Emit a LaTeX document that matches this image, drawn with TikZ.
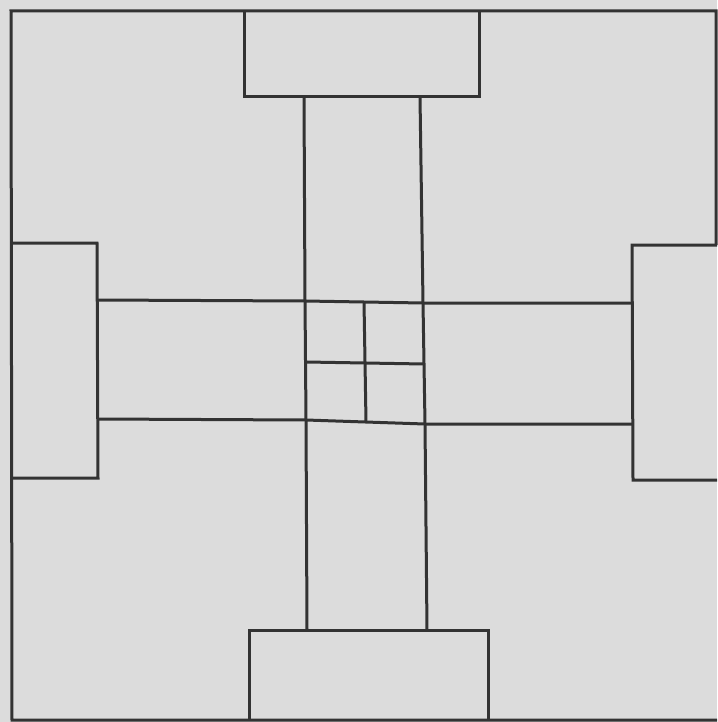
\documentclass[tikz,border=0pt]{standalone}
\usepackage{tikz}
\definecolor{paper}{HTML}{DCDCDC}
\definecolor{ink}{HTML}{333333}
\begin{document}
\begin{tikzpicture}[x=1pt,y=-1pt,
  edge/.style={draw=ink,line width=3pt,line join=miter,line cap=butt}]
\fill[paper] (0,0) rectangle (717,722);
\useasboundingbox (0,0) rectangle (717,722);
% outer frame (right side cut off by the picture edge)
\draw[edge] (716,245) -- (716,11) -- (11,11) -- (12,720) -- (717,720);
% top box
\draw[edge] (244,11) -- (244,97) -- (479,97) -- (479,11);
% bottom box
\draw[edge] (249,720) -- (249,630) -- (488,630) -- (488,720);
% left box
\draw[edge] (12,243) -- (97,243) -- (98,478) -- (12,478);
% right box
\draw[edge] (717,245) -- (632,245) -- (633,480) -- (717,480);
% vertical bar
\draw[edge] (304,97) -- (305,301) -- (306,420) -- (307,630);
\draw[edge] (420,97) -- (423,303) -- (425,424) -- (427,630);
% horizontal bar
\draw[edge] (97,300) -- (305,301) -- (423,303) -- (632,303);
\draw[edge] (98,419) -- (306,420) -- (425,424) -- (633,424);
% centre cross
\draw[edge] (364,302) -- (366,422);
\draw[edge] (306,362) -- (424,364);
\end{tikzpicture}
\end{document}
